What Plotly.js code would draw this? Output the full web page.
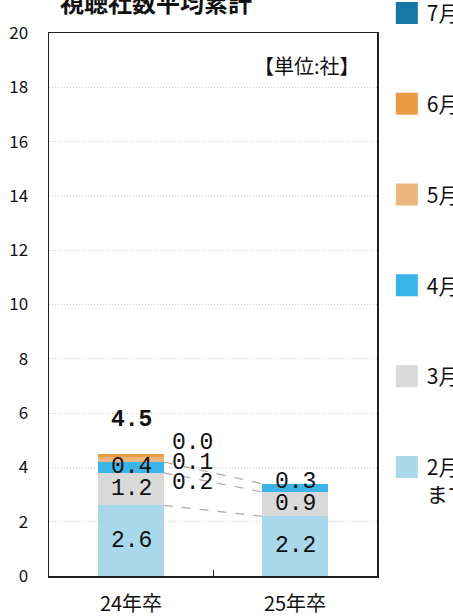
<!DOCTYPE html>
<html>
<head>
<meta charset="utf-8">
<script src="https://cdn.plot.ly/plotly-3.0.1.min.js"></script>
<style>html,body{margin:0;padding:0;background:#fff;}#chart{width:453px;height:616px;}</style>
</head>
<body>
<div id="chart"></div>
<script>
// ---- data ----
const categories = ['24年卒', '25年卒'];
const seriesNames = ['2月<br>まで', '3月', '4月', '5月', '6月', '7月'];
const febValues = [2.6, 2.2];
const marValues = [1.2, 0.9];
const aprValues = [0.4, 0.3];
const mayValues = [0.2, null];
const junValues = [0.1, null];
const julValues = [0.0, null];
const totalLabels = ['4.5', ''];
const seriesColors = ['#a8d8ea', '#d9d9d9', '#3bb5e8', '#ebb67b', '#e99b41', '#1778a5'];
const yTickVals = [0, 2, 4, 6, 8, 10, 12, 14, 16, 18, 20];

const allSeries = [febValues, marValues, aprValues, mayValues, junValues, julValues];

const traces = allSeries.map((vals, i) => ({
  type: 'bar',
  name: seriesNames[i],
  x: categories,
  y: vals,
  marker: { color: seriesColors[i], line: { width: 0 } },
  legendgroup: 'g' + i,
  legendrank: 100 - i,
  hoverinfo: 'skip'
}));

const labelFont = { family: 'Liberation Mono, DejaVu Sans Mono, monospace', size: 23, color: '#111' };
const annotations = [];
const cum = categories.map((c, ci) => {
  let s = 0; const arr = [];
  allSeries.forEach(vals => { const v = vals[ci]; arr.push(v == null ? null : [s, s + v]); if (v != null) s += v; });
  return { segs: arr, total: s };
});

categories.forEach((c, ci) => {
  let sideIdx = 0;
  allSeries.forEach((vals, si) => {
    const v = vals[ci];
    if (v == null) return;
    const seg = cum[ci].segs[si];
    if (si <= 2) {
      annotations.push({ x: c, y: (seg[0] + seg[1]) / 2, xref: 'x', yref: 'y', text: v.toFixed(1), showarrow: false, font: labelFont,
        yshift: (ci === 1 && si === 2) ? 6 : 0 });
    } else {
      annotations.push({ x: c, y: cum[ci].total, xref: 'x', yref: 'y', text: v.toFixed(1), showarrow: false, font: labelFont,
        xshift: 61, yshift: -29 + 20 * sideIdx });
      sideIdx++;
    }
  });
  if (totalLabels[ci]) {
    annotations.push({ x: c, y: cum[ci].total, xref: 'x', yref: 'y', text: '<b>' + totalLabels[ci] + '</b>', showarrow: false,
      font: labelFont, yshift: 34 });
  }
});

annotations.push({ x: 0.955, y: 0.94, xref: 'paper', yref: 'paper', xanchor: 'right', yanchor: 'middle',
  text: '【単位:社】', showarrow: false, font: { family: 'Noto Sans CJK JP', size: 20, color: '#111' } });

const shapes = [];
for (let si = 0; si < allSeries.length; si++) {
  const a = cum[0].segs[si], b = cum[1].segs[si];
  if (a && b) {
    shapes.push({ type: 'line', xref: 'x', yref: 'y', x0: 0.2, x1: 0.8, y0: a[1], y1: b[1],
      line: { color: '#aaaaaa', width: 1.2, dash: 'dash' } });
  }
}

const layout = {
  width: 453, height: 616,
  margin: { l: 49, r: 76, t: 33, b: 40, autoexpand: false },
  paper_bgcolor: '#fff', plot_bgcolor: '#fff',
  barmode: 'stack', bargap: 0.6,
  font: { family: 'Noto Sans CJK JP', color: '#111' },
  title: { text: '視聴社数平均累計', font: { family: 'Noto Sans CJK JP', size: 24, weight: 700, color: '#111' },
    xref: 'container', yref: 'container', x: 156 / 453, xanchor: 'center', y: 1 - 4 / 616, yanchor: 'middle' },
  xaxis: { type: 'category', range: [-0.5, 1.5], showline: true, mirror: true, linecolor: '#222', linewidth: 1.5,
    ticks: 'inside', tickson: 'boundaries', ticklen: 6, tickcolor: '#222', tickwidth: 1,
    showgrid: false, tickfont: { family: 'Noto Sans CJK JP', size: 20, color: '#111' }, ticklabelstandoff: 9, fixedrange: true },
  yaxis: { range: [0, 20], tickvals: yTickVals, showline: true, mirror: true, linecolor: '#222', linewidth: 1.5,
    ticks: '', showgrid: true, gridcolor: '#c8c8c8', griddash: '1px,2px', gridwidth: 1, zeroline: false,
    tickfont: { family: 'Noto Sans CJK JP', size: 17, color: '#111' }, ticklabelstandoff: 16, fixedrange: true },
  showlegend: true,
  legend: { x: 1.030, xanchor: 'left', y: 1.074, yanchor: 'top', traceorder: 'grouped', tracegroupgap: 60.5,
    maxheight: 616, valign: 'top', font: { family: 'Noto Sans CJK JP', size: 21, color: '#111' },
    bgcolor: 'rgba(0,0,0,0)', borderwidth: 0 },
  annotations: annotations,
  shapes: shapes
};

Plotly.newPlot('chart', traces, layout, { staticPlot: true, displayModeBar: false }).then(() => {
  document.querySelectorAll('.legend .legendpoints path').forEach(p => p.setAttribute('d', 'M11,11H-11V-11H11Z'));
});
</script>
</body>
</html>
